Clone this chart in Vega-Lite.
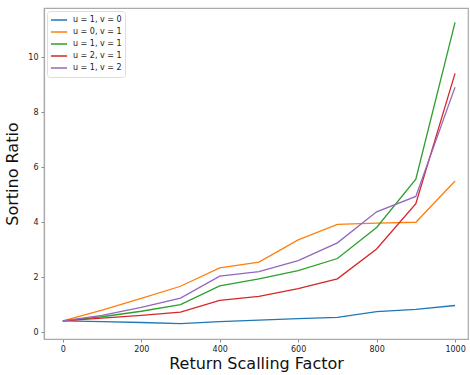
{
  "$schema": "https://vega.github.io/schema/vega-lite/v6.json",
  "autosize": {"type": "none"},
  "padding": {"left": 44, "top": 8, "right": 2, "bottom": 36},
  "width": 424,
  "height": 331,
  "background": "white",
  "config": {
    "font": "DejaVu Sans",
    "view": {"stroke": "#aaaaaa", "strokeWidth": 1.2},
    "axis": {
      "grid": false,
      "domainColor": "#aaaaaa",
      "domainWidth": 1.2,
      "tickColor": "#888888",
      "tickSize": 3,
      "labelColor": "#222222",
      "labelFontSize": 8,
      "labelFont": "DejaVu Sans",
      "titleFont": "DejaVu Sans",
      "titleFontSize": 16,
      "titleFontWeight": "normal",
      "titleColor": "#111111"
    }
  },
  "data": {
    "values": [
      {"x": 0, "s": "u = 1, v = 0", "y": 0.41},
      {"x": 100, "s": "u = 1, v = 0", "y": 0.38},
      {"x": 200, "s": "u = 1, v = 0", "y": 0.35},
      {"x": 300, "s": "u = 1, v = 0", "y": 0.31},
      {"x": 400, "s": "u = 1, v = 0", "y": 0.38},
      {"x": 500, "s": "u = 1, v = 0", "y": 0.44},
      {"x": 600, "s": "u = 1, v = 0", "y": 0.49},
      {"x": 700, "s": "u = 1, v = 0", "y": 0.54},
      {"x": 800, "s": "u = 1, v = 0", "y": 0.75},
      {"x": 900, "s": "u = 1, v = 0", "y": 0.83},
      {"x": 1000, "s": "u = 1, v = 0", "y": 0.97},
      {"x": 0, "s": "u = 0, v = 1", "y": 0.41},
      {"x": 100, "s": "u = 0, v = 1", "y": 0.8},
      {"x": 200, "s": "u = 0, v = 1", "y": 1.23},
      {"x": 300, "s": "u = 0, v = 1", "y": 1.67},
      {"x": 400, "s": "u = 0, v = 1", "y": 2.34},
      {"x": 500, "s": "u = 0, v = 1", "y": 2.55},
      {"x": 600, "s": "u = 0, v = 1", "y": 3.36},
      {"x": 700, "s": "u = 0, v = 1", "y": 3.92},
      {"x": 800, "s": "u = 0, v = 1", "y": 3.97},
      {"x": 900, "s": "u = 0, v = 1", "y": 4.0},
      {"x": 1000, "s": "u = 0, v = 1", "y": 5.5},
      {"x": 0, "s": "u = 1, v = 1", "y": 0.41},
      {"x": 100, "s": "u = 1, v = 1", "y": 0.56},
      {"x": 200, "s": "u = 1, v = 1", "y": 0.76},
      {"x": 300, "s": "u = 1, v = 1", "y": 1.0},
      {"x": 400, "s": "u = 1, v = 1", "y": 1.68},
      {"x": 500, "s": "u = 1, v = 1", "y": 1.94},
      {"x": 600, "s": "u = 1, v = 1", "y": 2.24},
      {"x": 700, "s": "u = 1, v = 1", "y": 2.68},
      {"x": 800, "s": "u = 1, v = 1", "y": 3.81},
      {"x": 900, "s": "u = 1, v = 1", "y": 5.57},
      {"x": 1000, "s": "u = 1, v = 1", "y": 11.28},
      {"x": 0, "s": "u = 2, v = 1", "y": 0.41},
      {"x": 100, "s": "u = 2, v = 1", "y": 0.51},
      {"x": 200, "s": "u = 2, v = 1", "y": 0.61},
      {"x": 300, "s": "u = 2, v = 1", "y": 0.73},
      {"x": 400, "s": "u = 2, v = 1", "y": 1.16},
      {"x": 500, "s": "u = 2, v = 1", "y": 1.3},
      {"x": 600, "s": "u = 2, v = 1", "y": 1.58},
      {"x": 700, "s": "u = 2, v = 1", "y": 1.94},
      {"x": 800, "s": "u = 2, v = 1", "y": 3.03},
      {"x": 900, "s": "u = 2, v = 1", "y": 4.68},
      {"x": 1000, "s": "u = 2, v = 1", "y": 9.42},
      {"x": 0, "s": "u = 1, v = 2", "y": 0.41},
      {"x": 100, "s": "u = 1, v = 2", "y": 0.61},
      {"x": 200, "s": "u = 1, v = 2", "y": 0.9},
      {"x": 300, "s": "u = 1, v = 2", "y": 1.24},
      {"x": 400, "s": "u = 1, v = 2", "y": 2.04},
      {"x": 500, "s": "u = 1, v = 2", "y": 2.2},
      {"x": 600, "s": "u = 1, v = 2", "y": 2.6},
      {"x": 700, "s": "u = 1, v = 2", "y": 3.25},
      {"x": 800, "s": "u = 1, v = 2", "y": 4.38},
      {"x": 900, "s": "u = 1, v = 2", "y": 4.94},
      {"x": 1000, "s": "u = 1, v = 2", "y": 8.92}
    ]
  },
  "mark": {"type": "line", "strokeWidth": 1.3, "clip": true},
  "encoding": {
    "x": {
      "field": "x", "type": "quantitative",
      "scale": {"domain": [-48, 1033], "nice": false, "zero": false},
      "axis": {"values": [0, 200, 400, 600, 800, 1000], "format": "d", "title": "Return Scalling Factor", "labelPadding": 3, "titlePadding": 2}
    },
    "y": {
      "field": "y", "type": "quantitative",
      "scale": {"domain": [-0.25, 11.8], "nice": false, "zero": false},
      "axis": {"values": [0, 2, 4, 6, 8, 10], "format": "d", "title": "Sortino Ratio", "labelPadding": 3, "titlePadding": 7}
    },
    "color": {
      "field": "s", "type": "nominal", "sort": null,
      "scale": {
        "domain": ["u = 1, v = 0", "u = 0, v = 1", "u = 1, v = 1", "u = 2, v = 1", "u = 1, v = 2"],
        "range": ["#1f77b4", "#ff7f0e", "#2ca02c", "#d62728", "#9467bd"]
      },
      "legend": {
        "title": null,
        "orient": "none",
        "legendX": 3,
        "legendY": 3,
        "symbolType": "stroke",
        "symbolSize": 260,
        "symbolStrokeWidth": 1.5,
        "labelFontSize": 8,
        "labelColor": "#222222",
        "labelOffset": 5,
        "clipHeight": 12,
        "rowPadding": 0,
        "padding": 3,
        "fillColor": "white",
        "strokeColor": "#dddddd",
        "cornerRadius": 3
      }
    }
  }
}
